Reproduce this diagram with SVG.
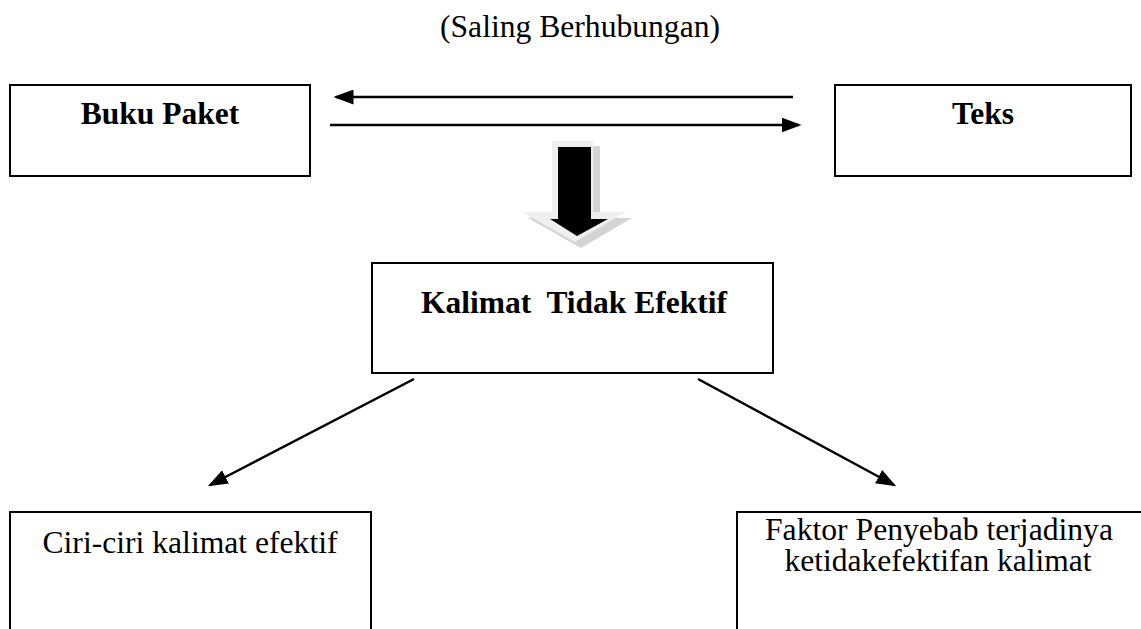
<svg xmlns="http://www.w3.org/2000/svg" width="1141" height="629" viewBox="0 0 1141 629">
<style>
.box{fill:#fff;stroke:#000;stroke-width:2}
.b{font-family:"Liberation Serif","Times New Roman",Tinos,"DejaVu Serif",serif;font-weight:bold;font-size:31.5px;fill:#000;text-anchor:middle}
.r{font-family:"Liberation Serif","Times New Roman",Tinos,"DejaVu Serif",serif;font-weight:normal;font-style:normal;font-size:31.5px;fill:#000;text-anchor:middle}
.con{stroke:#000;stroke-width:2.5;fill:none}
</style>
<defs>
<marker id="ah" markerWidth="8" markerHeight="6" refX="7" refY="3" orient="auto" markerUnits="strokeWidth">
<path d="M0,0 L8,3 L0,6 Z" fill="#000"/>
</marker>
</defs>
<text class="r" x="580" y="37" textLength="280" lengthAdjust="spacingAndGlyphs">(Saling Berhubungan)</text>
<g id="buku-paket">
<rect class="box" x="10" y="85" width="300" height="91"/>
<text class="b" x="160" y="124">Buku Paket</text>
</g>
<g id="teks">
<rect class="box" x="835" y="85" width="296" height="91"/>
<text class="b" x="983" y="124">Teks</text>
</g>
<g id="kalimat-tidak-efektif">
<rect class="box" x="372" y="263" width="401" height="110"/>
<text class="b" x="574" y="313" xml:space="preserve">Kalimat  Tidak Efektif</text>
</g>
<g id="ciri-ciri">
<path class="box" d="M10,640 V512 H371 V640"/>
<text class="r" x="190" y="553" textLength="295" lengthAdjust="spacingAndGlyphs">Ciri-ciri kalimat efektif</text>
</g>
<g id="faktor">
<path class="box" d="M737,640 V512 H1145"/>
<text class="r" x="939" y="540" textLength="348" lengthAdjust="spacingAndGlyphs">Faktor Penyebab terjadinya</text>
<text class="r" x="938" y="571" textLength="307" lengthAdjust="spacingAndGlyphs">ketidakefektifan kalimat</text>
</g>
<g id="connectors">
<line class="con" x1="793" y1="97" x2="336" y2="97" marker-end="url(#ah)"/>
<line class="con" x1="330" y1="125" x2="799" y2="125" marker-end="url(#ah)"/>
<line class="con" x1="414" y1="379" x2="210" y2="485" marker-end="url(#ah)"/>
<line class="con" x1="698" y1="379" x2="894" y2="485" marker-end="url(#ah)"/>
<g id="block-arrow">
<path d="M558,146 H600 V218 H632 L581,248 L528,218 H558 Z" fill="#d4d4d4"/>
<path d="M552,141 H593 V212 H626 L575,242 L522,212 H552 Z" fill="#efefef"/>
<path d="M558,147 H591 V219 H608 L577,236 L550,219 H558 Z" fill="#000"/>
</g>
</g>
</svg>
